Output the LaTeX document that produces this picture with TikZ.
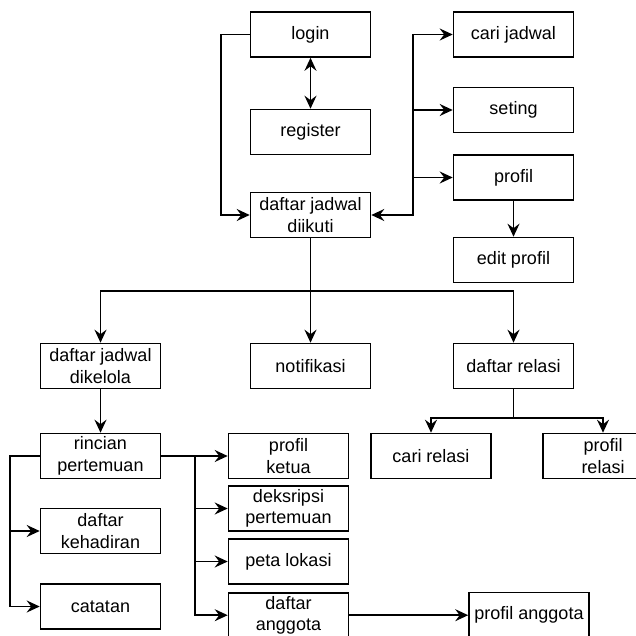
\documentclass[tikz,border=0pt]{standalone}
\usepackage{fontspec}
\setmainfont{Liberation Sans}
\usetikzlibrary{arrows.meta}
\tikzset{
  tip/.tip={Stealth[length=13pt,width=12pt,inset=4.5pt]},
  box/.style={draw, line width=1.6pt, minimum width=120pt, minimum height=45pt, inner sep=0pt, align=center, font=\fontsize{18}{21.6}\selectfont},
  conn/.style={line width=1.5pt, -tip},
  conn2/.style={line width=1.5pt, tip-tip},
}
\begin{document}
\begin{tikzpicture}[x=1pt,y=-1pt]
\useasboundingbox (0,0) rectangle (636,636);
\clip (0,0) rectangle (636,636);
% top
\node[box] (login) at (310.5,34.5) {login};
\node[box] (register) at (310.5,132) {register};
\node[box] (diikuti) at (310.5,215) {daftar jadwal\\diikuti};
\node[box] (cari) at (513.5,34.5) {cari jadwal};
\node[box] (seting) at (513.5,110) {seting};
\node[box] (profil) at (513.5,177.5) {profil};
\node[box] (edit) at (513.5,260) {edit profil};
% middle
\node[box] (dikelola) at (100.5,366) {daftar jadwal\\dikelola};
\node[box] (notif) at (310.5,366) {notifikasi};
\node[box] (relasi) at (513.5,366) {daftar relasi};
\node[box] (carirel) at (431,456) {cari relasi};
\node[box] (profrel) at (603,456) {profil\\relasi};
% bottom
\node[box] (rincian) at (100.5,456) {rincian\\pertemuan};
\node[box] (hadir) at (100.5,531) {daftar\\kehadiran};
\node[box] (catatan) at (100.5,606.5) {catatan};
\node[box] (ketua) at (288.5,456) {profil\\ketua};
\node[box] (deskripsi) at (288.5,508.5) {deksripsi\\pertemuan};
\node[box] (peta) at (288.5,561.5) {peta lokasi};
\node[box] (anggota) at (288.5,615.2) {daftar\\anggota};
\node[box] (profang) at (529,615) {profil anggota};
% junction points
\coordinate (jl) at (221,34.5);
\coordinate (jr) at (413,215);
\coordinate (jm) at (310.5,291);
\coordinate (jrel) at (513.5,418);
\coordinate (jrl) at (10,456);
\coordinate (jrr) at (195,456);
% connectors
\draw[conn] (login.west) -- (jl) |- (diikuti.west);
\draw[conn2] (login.south) -- (register.north);
\draw[conn2] (diikuti.east) -- (jr) |- (cari.west);
\draw[conn] (jr) |- (seting.west);
\draw[conn] (jr) |- (profil.west);
\draw[conn] (profil.south) -- (edit.north);
\draw[conn] (diikuti.south) -- (jm) -| (dikelola.north);
\draw[conn] (jm) -- (notif.north);
\draw[conn] (jm) -| (relasi.north);
\draw[conn] (dikelola.south) -- (rincian.north);
\draw[conn] (relasi.south) -- (jrel) -| (carirel.north);
\draw[conn] (jrel) -| (profrel.north);
\draw[conn] (rincian.west) -- (jrl) |- (hadir.west);
\draw[conn] (jrl) |- (catatan.west);
\draw[conn] (rincian.east) -- (ketua.west);
\draw[conn] (jrr) |- (deskripsi.west);
\draw[conn] (jrr) |- (peta.west);
\draw[conn] (jrr) |- (anggota.west);
\draw[conn] (anggota.east) -- (profang.west |- anggota.east);
\end{tikzpicture}
\end{document}
